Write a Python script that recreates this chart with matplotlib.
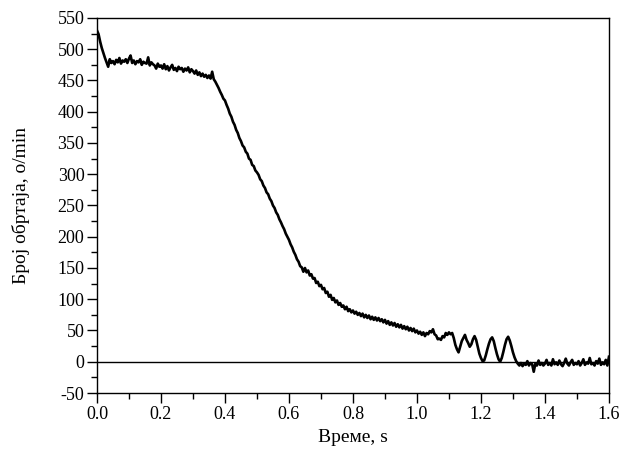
import numpy as np
import matplotlib
matplotlib.use("Agg")
import matplotlib.pyplot as plt
from matplotlib.ticker import MultipleLocator

# sampling interval of the speed record, s
dt = 0.005

# speed readings, o/min, one row per 0.1 s
speed = [
    530, 524, 512, 502, 494, 486, 479, 472, 484, 478, 481, 476, 483, 479, 486, 477, 482, 480, 484, 478,
    485, 490, 478, 482, 476, 481, 479, 484, 475, 480, 478, 477, 487, 474, 479, 476, 474, 469, 477, 472,
    474, 469, 476, 468, 473, 466, 471, 475, 467, 470, 465, 472, 468, 470, 464, 469, 466, 471, 463, 468,
    465, 461, 466, 459, 463, 457, 461, 456, 459, 454, 458, 453, 464, 452, 448, 443, 438, 432, 427, 421,
    418, 411, 405, 397, 392, 384, 379, 371, 366, 358, 353, 346, 343, 336, 333, 325, 323, 315, 313, 306,
    303, 299, 292, 289, 282, 278, 271, 268, 261, 257, 250, 246, 239, 235, 228, 223, 217, 212, 205, 200,
    195, 188, 183, 176, 171, 164, 160, 153, 151, 144, 150, 143, 146, 138, 140, 133, 134, 126, 128, 121,
    123, 116, 118, 110, 112, 104, 107, 99, 102, 95, 98, 91, 94, 88, 90, 84, 88, 81, 84, 79,
    82, 77, 80, 75, 78, 73, 77, 71, 75, 70, 74, 68, 72, 67, 71, 66, 70, 65, 68, 63,
    67, 61, 65, 59, 63, 58, 62, 56, 60, 55, 59, 53, 57, 52, 56, 50, 54, 49, 53, 47,
    50, 45, 48, 43, 47, 41, 46, 44, 49, 47, 52, 44, 42, 36, 37, 35, 41, 39, 46, 43,
    47, 44, 46, 38, 27, 20, 15, 24, 33, 38, 43, 35, 30, 24, 28, 36, 41, 35, 24, 13,
    6, 1, 2, 10, 20, 29, 36, 39, 33, 22, 12, 4, 0, 6, 16, 27, 36, 40, 34, 25,
    15, 7, 1, -3, -6, -2, -7, -3, -5, 1, -6, -2, -4, -16, -3, -6, 2, -5, -2, -6,
    -3, 3, -5, -2, -6, 4, -4, -1, -5, 2, -4, -7, -2, 5, -3, -6, -1, 3, -5, -2,
    -4, 1, -6, -2, 4, -5, -1, -3, 6, -4, -2, -6, 1, -3, 5, -5, -1, -4, 3, -6,
    8,
]
time = np.arange(len(speed)) * dt

x_label = "Време, s"
y_label = "Број обртаја, o/min"

plt.rcParams['font.family'] = ['Liberation Serif', 'DejaVu Serif']

fig = plt.figure(figsize=(6.33, 4.61), dpi=100)
ax = fig.add_axes([0.1532, 0.1475, 0.962 - 0.1532, 0.961 - 0.1475])

ax.axhline(0, color='black', lw=1.0, zorder=1)
ax.plot(time, speed, color='black', lw=1.9, zorder=2)

ax.set_xlim(0, 1.6)
ax.set_ylim(-50, 550)
ax.xaxis.set_major_locator(MultipleLocator(0.2))
ax.xaxis.set_minor_locator(MultipleLocator(0.1))
ax.yaxis.set_major_locator(MultipleLocator(50))
ax.yaxis.set_minor_locator(MultipleLocator(25))
ax.xaxis.set_major_formatter(matplotlib.ticker.FormatStrFormatter('%.1f'))
ax.yaxis.set_major_formatter(matplotlib.ticker.FuncFormatter(lambda v, p: f"{int(round(v))}"))

ax.tick_params(which='both', direction='out', top=False, right=False, labelsize=13, width=1.0, pad=2)
ax.tick_params(which='major', length=7)
ax.tick_params(which='minor', length=4)
for s in ax.spines.values():
    s.set_linewidth(1.0)

ax.set_xlabel(x_label, fontsize=14, labelpad=5)
ax.set_ylabel(y_label, fontsize=14, labelpad=20)

fig.savefig("out.png", dpi=100)
